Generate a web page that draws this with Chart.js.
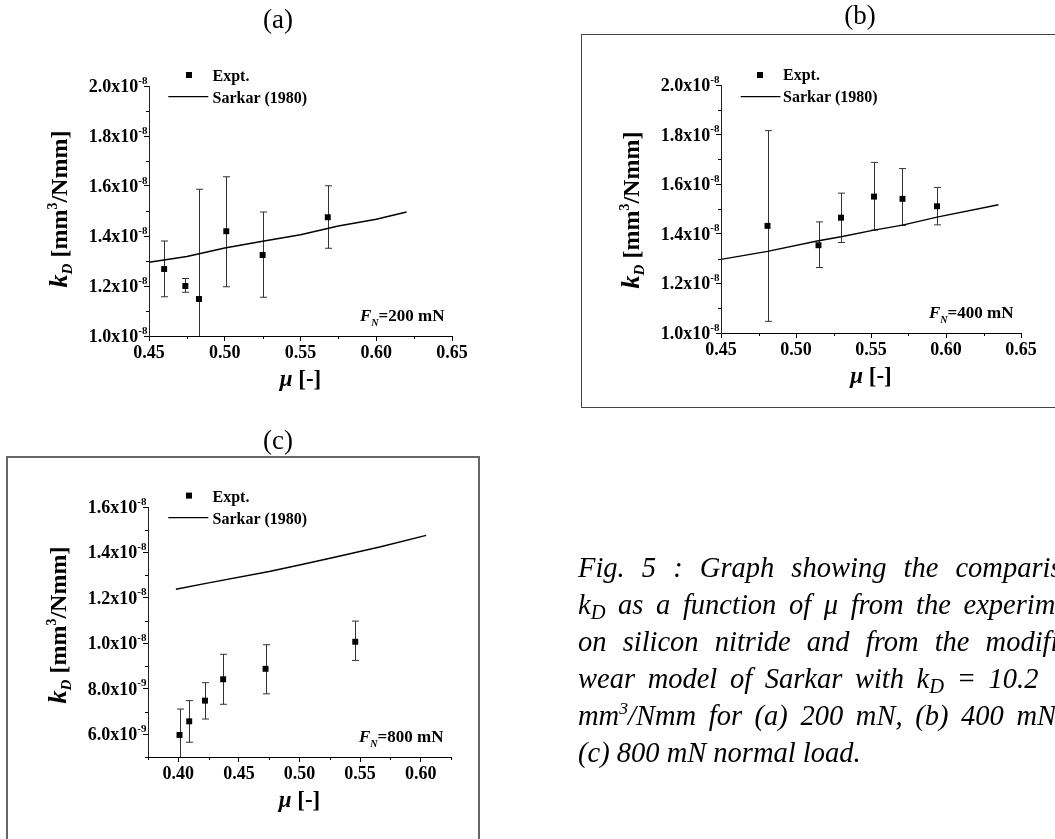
<!DOCTYPE html>
<html>
<head>
<meta charset="utf-8">
<script src="https://cdn.jsdelivr.net/npm/chart.js@4.4.1/dist/chart.umd.min.js"></script>
<style>
  html, body { margin: 0; padding: 0; background: #fff; }
  body { width: 1055px; height: 839px; overflow: hidden; position: relative; }
  canvas { position: absolute; left: 0; top: 0; }
  .frame { position: absolute; box-sizing: border-box; }
  #frameB { left: 581px; top: 34px; width: 500px; height: 374px; border: 1.5px solid #444; }
  #frameC { left: 6px; top: 456px; width: 474px; height: 420px; border: 2px solid #666; }
  #caption {
    position: absolute; left: 578px; top: 549px; white-space: nowrap;
    font: italic 28.5px "Liberation Serif", "Times New Roman", serif; line-height: 37px; color: #000;
  }
  #caption div { height: 37px; }
  #caption sub { font-size: 0.72em; line-height: 0; vertical-align: -0.22em; }
  #caption sup { font-size: 0.62em; line-height: 0; vertical-align: 0.6em; }
  #caption .rest { margin-left: 40px; }
</style>
</head>
<body>
<div class="frame" id="frameB"></div>
<div class="frame" id="frameC"></div>
<canvas id="chartA" width="1055" height="839"></canvas>
<canvas id="chartB" width="1055" height="839"></canvas>
<canvas id="chartC" width="1055" height="839"></canvas>
<div id="caption">
  <div style="word-spacing: 10px">Fig. 5 : Graph showing the comparison of</div>
  <div style="word-spacing: 5.5px">k<sub>D</sub> as a function of μ from the experiments</div>
  <div style="word-spacing: 9px">on silicon nitride and from the modified</div>
  <div style="word-spacing: 5.5px">wear model of Sarkar with k<sub>D</sub> = 10.2<span class="rest">x 10<sup>-9</sup></span></div>
  <div style="word-spacing: 5.5px">mm<sup>3</sup>/Nmm for (a) 200 mN, (b) 400 mN and</div>
  <div>(c) 800 mN normal load.</div>
</div>
<script>
// (a) 200 mN
const muA = [0.460, 0.474, 0.483, 0.501, 0.525, 0.568];
const kdA = [1.268e-8, 1.200e-8, 1.148e-8, 1.419e-8, 1.324e-8, 1.475e-8];
const kdHiA = [1.380e-8, 1.230e-8, 1.587e-8, 1.637e-8, 1.496e-8, 1.601e-8];
const kdLoA = [1.157e-8, 1.175e-8, 0.709e-8, 1.197e-8, 1.155e-8, 1.351e-8];
const muSarkarA = [0.45, 0.475, 0.50, 0.525, 0.55, 0.575, 0.60, 0.62];
const kdSarkarA = [1.295e-8, 1.318e-8, 1.352e-8, 1.379e-8, 1.405e-8, 1.440e-8, 1.467e-8, 1.496e-8];

// (b) 400 mN
const muB = [0.481, 0.515, 0.530, 0.552, 0.571, 0.594];
const kdB = [1.432e-8, 1.354e-8, 1.465e-8, 1.550e-8, 1.541e-8, 1.511e-8];
const kdHiB = [1.816e-8, 1.448e-8, 1.564e-8, 1.688e-8, 1.663e-8, 1.587e-8];
const kdLoB = [1.047e-8, 1.264e-8, 1.365e-8, 1.415e-8, 1.434e-8, 1.436e-8];
const muSarkarB = [0.45, 0.481, 0.515, 0.530, 0.552, 0.571, 0.594, 0.635];
const kdSarkarB = [1.297e-8, 1.329e-8, 1.372e-8, 1.388e-8, 1.415e-8, 1.435e-8, 1.467e-8, 1.517e-8];

// (c) 800 mN
const muC = [0.401, 0.409, 0.422, 0.437, 0.472, 0.546];
const kdC = [5.97e-9, 6.57e-9, 7.48e-9, 8.42e-9, 8.88e-9, 1.007e-8];
const kdHiC = [7.11e-9, 7.48e-9, 8.27e-9, 9.52e-9, 9.94e-9, 1.098e-8];
const kdLoC = [4.83e-9, 5.65e-9, 6.67e-9, 7.32e-9, 7.78e-9, 9.25e-9];
const muSarkarC = [0.398, 0.425, 0.475, 0.50, 0.528, 0.567, 0.6045];
const kdSarkarC = [1.238e-8, 1.266e-8, 1.316e-8, 1.345e-8, 1.378e-8, 1.425e-8, 1.475e-8];

// ticks
const xMajorAB = [0.45, 0.50, 0.55, 0.60, 0.65];
const xMinorAB = [0.475, 0.525, 0.575, 0.625];
const yMajorAB = [1.0e-8, 1.2e-8, 1.4e-8, 1.6e-8, 1.8e-8, 2.0e-8];
const yMinorAB = [1.1e-8, 1.3e-8, 1.5e-8, 1.7e-8, 1.9e-8];
const xMajorC = [0.40, 0.45, 0.50, 0.55, 0.60];
const xMinorC = [0.375, 0.425, 0.475, 0.525, 0.575, 0.625];
const yMajorC = [6e-9, 8e-9, 1.0e-8, 1.2e-8, 1.4e-8, 1.6e-8];
const yMinorC = [5e-9, 7e-9, 9e-9, 1.1e-8, 1.3e-8, 1.5e-8];

const W = 1055, H = 839;
const SERIF = '"Liberation Serif", "Times New Roman", serif';

function drawRich(ctx, x, y, segs, align) {
  let w = 0;
  segs.forEach((s) => { ctx.font = s.f; s.w = ctx.measureText(s.t).width; w += s.w; });
  let cx = align === "center" ? x - w / 2 : align === "right" ? x - w : x;
  ctx.textAlign = "left";
  ctx.textBaseline = "alphabetic";
  segs.forEach((s) => { ctx.font = s.f; ctx.fillText(s.t, cx, y + (s.dy || 0)); cx += s.w; });
}

function sciParts(v) {
  const e = Math.floor(Math.log10(v) + 1e-9);
  const m = v / Math.pow(10, e);
  return [m.toFixed(1) + "x10", String(e)];
}

const panelPlugin = {
  id: "panel",
  beforeDatasetsDraw(chart) {
    const p = chart.options.plugins.panel;
    const { ctx, chartArea: a } = chart;
    const xs = chart.scales.x, ys = chart.scales.y;
    // error bars
    ctx.save();
    ctx.beginPath();
    ctx.rect(a.left, a.top - 2, a.right - a.left, a.bottom - a.top + 2);
    ctx.clip();
    ctx.strokeStyle = "#333";
    ctx.lineWidth = 1;
    p.mu.forEach((m, i) => {
      const px = Math.round(xs.getPixelForValue(m)) + 0.5;
      const top = ys.getPixelForValue(p.hi[i]);
      const bot = ys.getPixelForValue(p.lo[i]);
      ctx.beginPath();
      ctx.moveTo(px, top); ctx.lineTo(px, bot);
      ctx.moveTo(px - 3.5, top); ctx.lineTo(px + 3.5, top);
      ctx.moveTo(px - 3.5, bot); ctx.lineTo(px + 3.5, bot);
      ctx.stroke();
    });
    ctx.restore();
  },
  afterDraw(chart) {
    const p = chart.options.plugins.panel;
    const { ctx, chartArea: a } = chart;
    const xs = chart.scales.x, ys = chart.scales.y;
    ctx.save();
    ctx.fillStyle = "#000";
    ctx.strokeStyle = "#000";
    ctx.lineWidth = 1;

    // minor ticks
    ctx.beginPath();
    p.xMinor.forEach((v) => {
      const px = Math.round(xs.getPixelForValue(v)) + 0.5;
      ctx.moveTo(px, a.bottom); ctx.lineTo(px, a.bottom + 3);
    });
    p.yMinor.forEach((v) => {
      const py = Math.round(ys.getPixelForValue(v)) + 0.5;
      ctx.moveTo(a.left - 3, py); ctx.lineTo(a.left, py);
    });
    ctx.stroke();

    // tick labels
    p.xMajor.forEach((v) => {
      ctx.font = "bold 18px " + SERIF;
      ctx.textAlign = "center";
      ctx.textBaseline = "alphabetic";
      ctx.fillText(v.toFixed(2), xs.getPixelForValue(v), a.bottom + 21.5);
    });
    p.yMajor.forEach((v) => {
      const [m, e] = sciParts(v);
      const py = ys.getPixelForValue(v);
      drawRich(ctx, a.left - 1.5, py + 6, [
        { t: m, f: "bold 18px " + SERIF },
        { t: e, f: "bold 11px " + SERIF, dy: -8.5 },
      ], "right");
    });

    // axis titles
    drawRich(ctx, a.left + (a.right - a.left) / 2, a.bottom + 50, [
      { t: "μ", f: "italic bold 23px " + SERIF },
      { t: " [-]", f: "bold 23px " + SERIF },
    ], "center");
    ctx.save();
    ctx.translate(a.left - 82, p.yTitleY);
    ctx.rotate(-Math.PI / 2);
    drawRich(ctx, 0, 0, [
      { t: "k", f: "italic bold 26px " + SERIF },
      { t: "D", f: "italic bold 15px " + SERIF, dy: 5 },
      { t: " [mm", f: "bold 24px " + SERIF },
      { t: "3", f: "bold 14px " + SERIF, dy: -10 },
      { t: "/Nmm]", f: "bold 24px " + SERIF },
    ], "center");
    ctx.restore();

    // load annotation
    drawRich(ctx, a.right - 92, a.bottom - 15.5, [
      { t: "F", f: "italic bold 17px " + SERIF },
      { t: "N", f: "italic bold 10px " + SERIF, dy: 5 },
      { t: "=" + p.load + " mN", f: "bold 17px " + SERIF },
    ], "left");

    // legend
    const lg = p.legend;
    ctx.fillRect(a.left + lg.mx - 3, a.top + lg.my - 3, 6, 6);
    ctx.beginPath();
    ctx.lineWidth = 1.3;
    ctx.moveTo(a.left + lg.l0, a.top + lg.ly);
    ctx.lineTo(a.left + lg.l1, a.top + lg.ly);
    ctx.stroke();
    ctx.font = "bold 16px " + SERIF;
    ctx.textAlign = "left";
    ctx.textBaseline = "alphabetic";
    ctx.fillText("Expt.", a.left + lg.tx, a.top - 5);
    ctx.fillText("Sarkar (1980)", a.left + lg.tx, a.top + 16.5);

    // panel title
    ctx.font = "27px " + SERIF;
    ctx.textAlign = "center";
    ctx.fillText(p.title, p.titleX, p.titleY);
    ctx.restore();
  },
};

function makePanel(id, cfg) {
  const area = cfg.area;
  return new Chart(document.getElementById(id), {
    type: "scatter",
    data: {
      datasets: [
        {
          label: "Sarkar (1980)",
          data: cfg.lineX.map((x, i) => ({ x: x, y: cfg.lineY[i] })),
          showLine: true,
          borderColor: "#000",
          borderWidth: 1.4,
          pointRadius: 0,
          tension: 0,
        },
        {
          label: "Expt.",
          data: cfg.mu.map((x, i) => ({ x: x, y: cfg.kd[i] })),
          pointStyle: "rect",
          pointRadius: 4.2,
          backgroundColor: "#000",
          borderWidth: 0,
        },
      ],
    },
    options: {
      responsive: false,
      animation: false,
      events: [],
      layout: {
        padding: {
          left: area.left - 5,
          top: area.top,
          right: W - area.right,
          bottom: H - area.bottom - 5,
        },
      },
      plugins: {
        legend: { display: false },
        tooltip: { enabled: false },
        panel: cfg,
      },
      scales: {
        x: {
          type: "linear",
          min: cfg.xMin,
          max: cfg.xMax,
          afterBuildTicks: (s) => { s.ticks = cfg.xMajor.map((v) => ({ value: v })); },
          ticks: { display: false },
          grid: { drawOnChartArea: false, drawTicks: true, tickLength: 5, color: "#000" },
          border: { display: true, color: "#000", width: 1 },
        },
        y: {
          type: "linear",
          min: cfg.yMin,
          max: cfg.yMax,
          afterBuildTicks: (s) => { s.ticks = cfg.yMajor.map((v) => ({ value: v })); },
          ticks: { display: false },
          grid: { drawOnChartArea: false, drawTicks: true, tickLength: 5, color: "#000" },
          border: { display: true, color: "#222", width: 1 },
        },
      },
    },
    plugins: [panelPlugin],
  });
}

makePanel("chartA", {
  area: { left: 149, right: 452, top: 86, bottom: 336 },
  xMin: 0.45, xMax: 0.65, yMin: 1.0e-8, yMax: 2.0e-8,
  xMajor: xMajorAB, xMinor: xMinorAB, yMajor: yMajorAB, yMinor: yMinorAB,
  mu: muA, kd: kdA, hi: kdHiA, lo: kdLoA, lineX: muSarkarA, lineY: kdSarkarA,
  load: 200, yTitleY: 209,
  legend: { mx: 40, my: -11, l0: 19.3, l1: 59.3, ly: 10.7, tx: 63.5 },
  title: "(a)", titleX: 278, titleY: 28,
});

makePanel("chartB", {
  area: { left: 721, right: 1021, top: 85, bottom: 333 },
  xMin: 0.45, xMax: 0.65, yMin: 1.0e-8, yMax: 2.0e-8,
  xMajor: xMajorAB, xMinor: xMinorAB, yMajor: yMajorAB, yMinor: yMinorAB,
  mu: muB, kd: kdB, hi: kdHiB, lo: kdLoB, lineX: muSarkarB, lineY: kdSarkarB,
  load: 400, yTitleY: 210,
  legend: { mx: 39, my: -10, l0: 19.7, l1: 59.4, ly: 11.7, tx: 62 },
  title: "(b)", titleX: 860, titleY: 24,
});

makePanel("chartC", {
  area: { left: 148, right: 451, top: 507, bottom: 757 },
  xMin: 0.375, xMax: 0.625, yMin: 5e-9, yMax: 1.6e-8,
  xMajor: xMajorC, xMinor: xMinorC, yMajor: yMajorC, yMinor: yMinorC,
  mu: muC, kd: kdC, hi: kdHiC, lo: kdLoC, lineX: muSarkarC, lineY: kdSarkarC,
  load: 800, yTitleY: 625,
  legend: { mx: 41, my: -11.4, l0: 20.3, l1: 60.3, ly: 10.6, tx: 64.5 },
  title: "(c)", titleX: 278, titleY: 449,
});
</script>
</body>
</html>
